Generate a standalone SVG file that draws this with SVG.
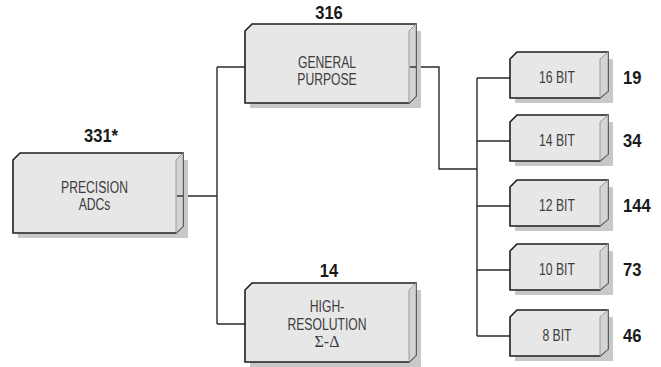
<svg xmlns="http://www.w3.org/2000/svg" width="661" height="367" viewBox="0 0 661 367">
<style>
.shadow{fill:#c8c8c8}
.face{fill:#e7e7e8;stroke:#1e1e1e;stroke-width:1.6;stroke-linejoin:miter}
.side{fill:#d4d4d5;stroke:#8a8a8a;stroke-width:0.8}
.lbl{font-family:"Liberation Sans",Arial,sans-serif;font-size:16px;fill:#3c3c3c;text-anchor:middle}
.sym{font-family:"Liberation Serif","DejaVu Serif",serif;font-size:16px;fill:#3c3c3c;text-anchor:middle}
.num{font-family:"Liberation Sans",Arial,sans-serif;font-size:18px;font-weight:bold;fill:#1a1a1a}
.mid{text-anchor:middle}
.wire{fill:none;stroke:#2a2a2a;stroke-width:1.4}
</style>
<g id="connectors">
<path class="wire" d="M177,196H217M217,67V324M217,67H245M217,324H245"/>
<path class="wire" d="M412,67H439V169H477M477,78V336"/>
<path class="wire" d="M477,78H510M477,141H510M477,206H510M477,270H510M477,336H510"/>
</g>
<g id="precision">
<rect class="shadow" x="18" y="160" width="170" height="78"/>
<polygon class="face" points="13,160 20,153 183,153 183,226 176,233 13,233"/>
<polygon class="side" points="176,160 183,153 183,226 176,233"/>
<line x1="177" y1="196" x2="183" y2="196" stroke="#2a2a2a" stroke-width="1.4"/>
<text class="lbl" transform="matrix(0.76,0,0,1,94.5,193)">PRECISION</text>
<text class="lbl" transform="matrix(0.76,0,0,1,94.5,210)">ADCs</text>
<text class="num mid" transform="matrix(0.92,0,0,1,101,142)">331*</text>
</g>
<g id="general">
<rect class="shadow" x="250" y="31" width="171" height="77"/>
<polygon class="face" points="245,31 252,24 416,24 416,96 409,103 245,103"/>
<polygon class="side" points="409,31 416,24 416,96 409,103"/>
<line x1="410" y1="67" x2="416" y2="67" stroke="#2a2a2a" stroke-width="1.4"/>
<text class="lbl" transform="matrix(0.76,0,0,1,327,68)">GENERAL</text>
<text class="lbl" transform="matrix(0.76,0,0,1,327,85)">PURPOSE</text>
<text class="num mid" transform="matrix(0.92,0,0,1,329,19)">316</text>
</g>
<g id="highres">
<rect class="shadow" x="250" y="290" width="171" height="77"/>
<polygon class="face" points="245,290 252,283 416,283 416,355 409,362 245,362"/>
<polygon class="side" points="409,290 416,283 416,355 409,362"/>
<text class="lbl" transform="matrix(0.76,0,0,1,327,312)">HIGH-</text>
<text class="lbl" transform="matrix(0.76,0,0,1,327,330)">RESOLUTION</text>
<text class="sym" x="327" y="347">Σ-Δ</text>
<text class="num mid" transform="matrix(0.92,0,0,1,329,277)">14</text>
</g>
<g id="bit16">
<rect class="shadow" x="515" y="59" width="98" height="44"/>
<polygon class="face" points="510,59 517,52 608,52 608,91 600,98 510,98"/>
<polygon class="side" points="600,59 608,52 608,91 600,98"/>
<text class="lbl" transform="matrix(0.76,0,0,1,557,83)">16 BIT</text>
<text class="num" transform="matrix(0.92,0,0,1,623,84)">19</text>
</g>
<g id="bit14">
<rect class="shadow" x="515" y="122" width="98" height="44"/>
<polygon class="face" points="510,122 517,115 608,115 608,154 600,161 510,161"/>
<polygon class="side" points="600,122 608,115 608,154 600,161"/>
<text class="lbl" transform="matrix(0.76,0,0,1,557,146)">14 BIT</text>
<text class="num" transform="matrix(0.92,0,0,1,623,147)">34</text>
</g>
<g id="bit12">
<rect class="shadow" x="515" y="187" width="98" height="44"/>
<polygon class="face" points="510,187 517,180 608,180 608,219 600,226 510,226"/>
<polygon class="side" points="600,187 608,180 608,219 600,226"/>
<text class="lbl" transform="matrix(0.76,0,0,1,557,211)">12 BIT</text>
<text class="num" transform="matrix(0.92,0,0,1,623,212)">144</text>
</g>
<g id="bit10">
<rect class="shadow" x="515" y="251" width="98" height="44"/>
<polygon class="face" points="510,251 517,244 608,244 608,283 600,290 510,290"/>
<polygon class="side" points="600,251 608,244 608,283 600,290"/>
<text class="lbl" transform="matrix(0.76,0,0,1,557,275)">10 BIT</text>
<text class="num" transform="matrix(0.92,0,0,1,623,276)">73</text>
</g>
<g id="bit8">
<rect class="shadow" x="515" y="317" width="98" height="44"/>
<polygon class="face" points="510,317 517,310 608,310 608,349 600,356 510,356"/>
<polygon class="side" points="600,317 608,310 608,349 600,356"/>
<text class="lbl" transform="matrix(0.76,0,0,1,557,341)">8 BIT</text>
<text class="num" transform="matrix(0.92,0,0,1,623,342)">46</text>
</g>
</svg>
